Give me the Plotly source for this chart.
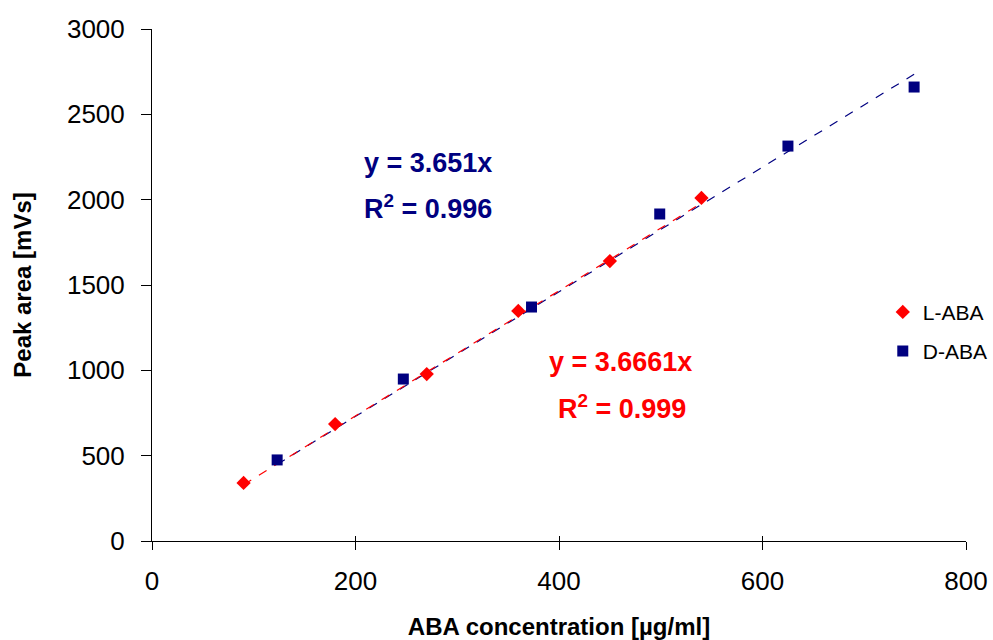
import plotly.graph_objects as go

# Data
l_x = [90, 180, 270, 360, 450, 540]
l_y = [340, 685, 978, 1348, 1640, 2010]
d_x = [123, 247, 373, 499, 625, 749]
d_y = [475, 949, 1371, 1916, 2314, 2660]
l_slope = 3.6661
d_slope = 3.651
x_ticks = [0, 200, 400, 600, 800]
y_ticks = [0, 500, 1000, 1500, 2000, 2500, 3000]

RED = "#FF0000"
NAVY = "#000080"
FONT = "Liberation Sans, Arial, sans-serif"

fig = go.Figure()

# Trendlines (linear through origin)
d_tx = [min(d_x), max(d_x)]
l_tx = [min(l_x), max(l_x)]
fig.add_trace(go.Scatter(x=d_tx, y=[d_slope * v for v in d_tx], mode="lines",
                         line=dict(color=NAVY, width=1.2, dash="dash"),
                         showlegend=False, hoverinfo="skip"))
fig.add_trace(go.Scatter(x=l_tx, y=[l_slope * v for v in l_tx], mode="lines",
                         line=dict(color=RED, width=1.2, dash="dash"),
                         showlegend=False, hoverinfo="skip"))

fig.add_trace(go.Scatter(x=l_x, y=l_y, mode="markers", name="L-ABA",
                         marker=dict(symbol="diamond", size=11, color=RED),
                         legend="legend"))
fig.add_trace(go.Scatter(x=d_x, y=d_y, mode="markers", name="D-ABA",
                         marker=dict(symbol="square", size=11, color=NAVY),
                         legend="legend2"))

# invisible trace on overlay axis for inside tick marks (cross ticks)
fig.add_trace(go.Scatter(x=[0], y=[0], xaxis="x2", mode="markers",
                         marker=dict(opacity=0), showlegend=False, hoverinfo="skip"))

fig.update_layout(
    width=993, height=640,
    margin=dict(l=152, r=27, t=29, b=99, autoexpand=False),
    paper_bgcolor="white", plot_bgcolor="white",
    font=dict(family=FONT, color="black"),
    xaxis=dict(range=[0, 800], tickvals=x_ticks, ticks="outside", ticklen=8,
               tickcolor="black", showline=True, linecolor="black", linewidth=1,
               showgrid=False, zeroline=False, tickfont=dict(size=26),
               ticklabelstandoff=9,
               title=dict(text="<b>ABA concentration [µg/ml]</b>", font=dict(size=24),
                          standoff=26)),
    xaxis2=dict(range=[0, 800], tickvals=x_ticks, ticks="inside", ticklen=5,
                tickcolor="black", overlaying="x", side="bottom",
                showticklabels=False, showgrid=False, zeroline=False, showline=False),
    yaxis=dict(range=[0, 3000], tickvals=y_ticks, ticks="outside", ticklen=10,
               tickcolor="black", showline=True, linecolor="black", linewidth=1,
               showgrid=False, zeroline=False, tickfont=dict(size=26),
               ticklabelstandoff=11,
               title=dict(text="<b>Peak area [mVs]</b>", font=dict(size=24),
                          standoff=28)),
    legend=dict(x=0.889, y=0.512, xref="container", yref="container",
                xanchor="left", yanchor="middle", font=dict(size=21),
                bgcolor="rgba(0,0,0,0)"),
    legend2=dict(x=0.889, y=0.451, xref="container", yref="container",
                 xanchor="left", yanchor="middle", font=dict(size=21),
                 bgcolor="rgba(0,0,0,0)"),
    showlegend=True,
)

ann_font_n = dict(family=FONT, size=27, color=NAVY)
ann_font_r = dict(family=FONT, size=27, color=RED)
fig.add_annotation(x=271, y=2215, text="<b>y = 3.651x</b>", showarrow=False, font=ann_font_n)
fig.add_annotation(x=271, y=1957, text="<b>R<sup>2</sup> = 0.996</b>", showarrow=False, font=ann_font_n)
fig.add_annotation(x=460, y=1049, text="<b>y = 3.6661x</b>", showarrow=False, font=ann_font_r)
fig.add_annotation(x=462, y=785, text="<b>R<sup>2</sup> = 0.999</b>", showarrow=False, font=ann_font_r)

fig.write_html("out.html")
